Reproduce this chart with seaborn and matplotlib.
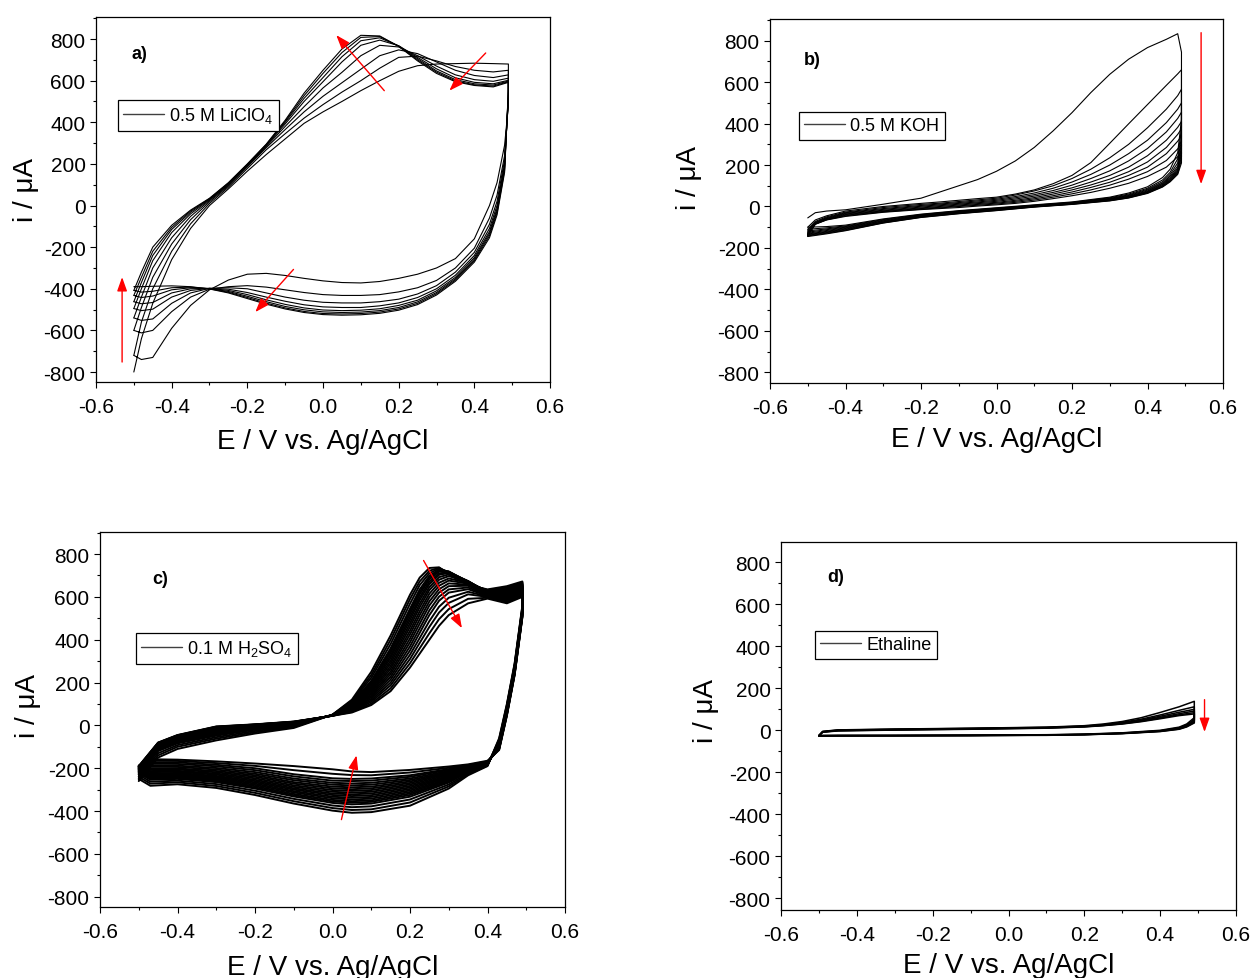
import numpy as np
import pandas as pd
import matplotlib
matplotlib.use("Agg")
import matplotlib.pyplot as plt
import seaborn as sns
from matplotlib.lines import Line2D
from matplotlib.ticker import MultipleLocator, FormatStrFormatter

# ---------------- Panel a: 0.5 M LiClO4 ----------------
E_fwd_a = [-0.50, -0.48, -0.45, -0.40, -0.35, -0.30, -0.25, -0.20, -0.15, -0.10, -0.05,
           0.00, 0.05, 0.10, 0.15, 0.20, 0.25, 0.30, 0.35, 0.40, 0.45, 0.49]
E_rev_a = [0.49, 0.48, 0.46, 0.44, 0.40, 0.35, 0.30, 0.25, 0.20, 0.15, 0.10, 0.05,
           0.00, -0.05, -0.10, -0.15, -0.20, -0.25, -0.30, -0.35, -0.40, -0.45, -0.48, -0.50]
I_fwd_a = [
    [-800, -640, -470, -260, -110, 0, 80, 165, 245, 320, 395, 450, 500, 552, 600, 645, 672, 680, 682, 684, 682, 680],
    [-720, -560, -400, -220, -88, 10, 88, 178, 268, 345, 420, 485, 545, 600, 660, 712, 718, 695, 668, 650, 642, 650],
    [-600, -490, -345, -185, -68, 18, 94, 186, 278, 365, 450, 525, 590, 655, 720, 748, 730, 690, 650, 625, 615, 628],
    [-540, -440, -300, -155, -52, 24, 98, 190, 284, 380, 475, 565, 640, 720, 770, 762, 720, 670, 628, 605, 597, 612],
    [-495, -400, -265, -130, -40, 28, 102, 194, 288, 392, 500, 595, 690, 770, 795, 768, 712, 657, 614, 592, 585, 602],
    [-462, -370, -240, -115, -32, 31, 105, 196, 291, 400, 515, 615, 715, 792, 806, 767, 706, 647, 605, 585, 579, 598],
    [-432, -345, -220, -105, -26, 33, 108, 198, 293, 405, 528, 635, 735, 808, 812, 766, 700, 641, 599, 580, 574, 595],
    [-408, -320, -200, -95, -22, 35, 110, 200, 295, 410, 540, 650, 752, 818, 815, 765, 695, 635, 595, 577, 570, 592],
]
I_rev_a = [
    [480, 290, 110, 0, -160, -255, -300, -330, -350, -365, -372, -370, -362, -350, -336, -326, -330, -358, -405, -480, -590, -730, -740, -720],
    [500, 240, 50, -60, -205, -300, -360, -395, -415, -428, -432, -432, -428, -418, -405, -392, -385, -390, -402, -440, -510, -600, -612, -600],
    [510, 220, 20, -90, -225, -320, -385, -425, -450, -462, -468, -468, -465, -455, -440, -420, -400, -395, -398, -420, -470, -545, -552, -540],
    [520, 200, 0, -110, -240, -335, -400, -442, -468, -482, -490, -490, -487, -477, -460, -440, -418, -402, -398, -408, -440, -498, -505, -495],
    [530, 190, -15, -125, -250, -345, -410, -455, -480, -496, -503, -505, -502, -492, -475, -453, -428, -408, -398, -400, -420, -466, -472, -462],
    [540, 180, -25, -135, -258, -352, -418, -463, -490, -505, -512, -514, -511, -501, -485, -462, -436, -413, -399, -395, -405, -435, -442, -432],
    [550, 170, -35, -145, -265, -358, -424, -470, -497, -512, -519, -521, -519, -509, -492, -469, -442, -417, -400, -392, -395, -412, -416, -408],
    [560, 160, -45, -155, -272, -364, -430, -476, -503, -518, -525, -527, -524, -514, -497, -474, -447, -420, -401, -390, -386, -388, -390, -390],
]

# ---------------- Panel b: 0.5 M KOH ----------------
E_fwd_b = [-0.50, -0.48, -0.45, -0.40, -0.30, -0.20, -0.15, -0.10, -0.05, 0.00, 0.05,
           0.10, 0.15, 0.20, 0.25, 0.30, 0.35, 0.40, 0.45, 0.48, 0.49]
E_rev_b = [0.49, 0.48, 0.46, 0.44, 0.40, 0.35, 0.30, 0.20, 0.10, 0.00, -0.10, -0.20,
           -0.30, -0.40, -0.45, -0.50]
I_fwd_b = [
    [-55, -30, -22, -16, 11, 40, 70, 100, 130, 170, 220, 285, 365, 453, 550, 638, 711, 767, 807, 834, 745],
    [-100, -65, -45, -22, 0, 15, 22, 30, 38, 45, 60, 80, 110, 150, 212, 305, 399, 492, 585, 640, 660],
    [-110, -72, -50, -27, -5, 10, 16, 24, 32, 40, 55, 75, 100, 135, 180, 235, 300, 380, 470, 535, 566],
    [-118, -76, -54, -30, -10, 5, 12, 19, 27, 35, 48, 65, 88, 118, 155, 200, 255, 320, 405, 470, 500],
    [-124, -79, -57, -33, -14, 1, 8, 15, 22, 30, 42, 57, 77, 103, 135, 172, 220, 280, 360, 425, 455],
    [-129, -81, -59, -36, -18, -3, 4, 11, 18, 25, 36, 50, 68, 90, 118, 150, 190, 245, 320, 382, 410],
    [-133, -83, -61, -39, -21, -7, 0, 7, 14, 20, 30, 43, 60, 80, 104, 132, 168, 215, 285, 348, 375],
    [-136, -84, -63, -42, -24, -10, -4, 3, 10, 16, 25, 37, 52, 70, 92, 117, 150, 190, 255, 315, 340],
    [-139, -85, -64, -45, -26, -13, -7, 0, 6, 12, 20, 31, 45, 61, 80, 103, 132, 168, 222, 278, 300],
    [-142, -86, -65, -48, -28, -15, -10, -5, 2, 8, 15, 25, 38, 52, 68, 88, 112, 145, 190, 240, 265],
]
I_rev_b = [
    [420, 260, 180, 140, 95, 65, 45, 22, 8, -6, -20, -37, -60, -90, -97, -100],
    [380, 230, 165, 128, 88, 60, 42, 20, 6, -8, -22, -39, -63, -94, -103, -110],
    [340, 210, 155, 120, 83, 56, 39, 18, 4, -10, -24, -41, -66, -97, -108, -118],
    [310, 195, 147, 114, 79, 53, 37, 16, 3, -12, -26, -43, -69, -100, -112, -124],
    [290, 185, 140, 110, 75, 50, 35, 15, 2, -13, -28, -45, -71, -103, -116, -129],
    [270, 178, 135, 106, 72, 48, 33, 14, 1, -15, -30, -47, -74, -106, -120, -133],
    [255, 172, 130, 102, 69, 46, 31, 13, 0, -16, -31, -49, -76, -109, -123, -136],
    [240, 166, 126, 99, 67, 44, 30, 12, -1, -17, -32, -50, -77, -112, -126, -139],
    [225, 160, 122, 96, 65, 42, 28, 11, -2, -19, -34, -52, -79, -115, -129, -142],
    [210, 155, 119, 94, 63, 41, 27, 10, -3, -20, -35, -53, -80, -117, -132, -145],
]

# ---------------- Panel c: 0.1 M H2SO4 ----------------
E_fwd_c = [-0.50, -0.45, -0.40, -0.30, -0.20, -0.10, 0.00, 0.05, 0.10, 0.15, 0.20,
           0.225, 0.25, 0.275, 0.30, 0.35, 0.40, 0.45, 0.49]
E_rev_c = [0.49, 0.47, 0.45, 0.43, 0.40, 0.35, 0.30, 0.20, 0.10, 0.05, 0.00, -0.10,
           -0.20, -0.30, -0.40, -0.47, -0.50]
I_fwd_c = [
    [-260, -150, -110, -70, -38, -12, 50, 120, 250, 420, 610, 690, 735, 738, 705, 655, 635, 650, 672],
    [-250, -140, -100, -62, -32, -8, 50, 115, 235, 400, 590, 672, 722, 736, 712, 660, 632, 645, 668],
    [-240, -130, -92, -55, -26, -4, 50, 110, 222, 380, 568, 655, 710, 733, 716, 664, 630, 640, 664],
    [-230, -120, -84, -48, -20, 0, 49, 105, 208, 360, 545, 635, 698, 728, 718, 668, 627, 635, 660],
    [-226, -115, -80, -44, -17, 2, 48, 102, 201, 349, 532, 623, 690, 723, 718, 670, 625, 632, 657],
    [-222, -110, -76, -40, -14, 4, 48, 100, 195, 338, 520, 612, 682, 718, 718, 672, 624, 630, 655],
    [-218, -106, -72, -36, -11, 5, 48, 97, 188, 326, 506, 598, 671, 710, 715, 673, 622, 627, 652],
    [-215, -102, -68, -32, -8, 7, 48, 95, 180, 315, 492, 585, 660, 703, 712, 674, 620, 625, 650],
    [-212, -99, -64, -28, -5, 8, 47, 92, 173, 302, 476, 568, 646, 692, 705, 672, 618, 621, 647],
    [-209, -96, -61, -25, -3, 10, 47, 90, 166, 290, 460, 552, 632, 680, 697, 670, 616, 618, 645],
    [-206, -93, -58, -22, -1, 11, 47, 87, 159, 277, 442, 533, 615, 666, 686, 666, 614, 614, 641],
    [-204, -91, -56, -19, 0, 12, 47, 85, 152, 265, 425, 515, 598, 652, 676, 662, 612, 610, 638],
    [-202, -89, -54, -16, 1, 13, 46, 82, 145, 252, 406, 495, 579, 636, 663, 657, 610, 605, 634],
    [-200, -87, -52, -14, 2, 14, 46, 80, 138, 240, 388, 475, 560, 620, 650, 652, 608, 600, 630],
    [-198, -85, -50, -12, 2, 14, 46, 77, 131, 227, 369, 453, 537, 601, 635, 644, 606, 595, 626],
    [-196, -84, -49, -10, 3, 15, 46, 74, 124, 214, 350, 432, 515, 582, 620, 636, 604, 590, 622],
    [-194, -83, -48, -8, 3, 16, 45, 70, 117, 200, 330, 408, 487, 554, 596, 624, 602, 585, 617],
    [-193, -82, -47, -7, 4, 17, 45, 67, 110, 187, 310, 385, 460, 527, 572, 612, 600, 580, 612],
    [-191, -81, -46, -6, 4, 17, 45, 63, 102, 173, 290, 360, 430, 496, 543, 591, 596, 575, 606],
    [-190, -80, -45, -5, 5, 18, 45, 60, 95, 160, 270, 335, 400, 465, 515, 570, 592, 570, 600],
]
I_rev_c = [
    [560, 290, 100, -60, -190, -233, -295, -375, -405, -408, -398, -365, -325, -292, -275, -282, -250],
    [555, 285, 95, -65, -188, -228, -285, -360, -392, -395, -386, -354, -315, -283, -266, -272, -240],
    [550, 280, 90, -70, -186, -223, -276, -346, -378, -382, -374, -343, -305, -274, -258, -263, -230],
    [545, 275, 85, -75, -184, -218, -267, -333, -365, -369, -362, -332, -295, -265, -250, -254, -222],
    [542, 272, 82, -78, -183, -215, -262, -325, -357, -361, -355, -326, -290, -260, -245, -249, -218],
    [540, 270, 80, -80, -182, -213, -258, -318, -350, -354, -348, -320, -284, -256, -241, -244, -215],
    [538, 268, 78, -82, -181, -210, -253, -311, -342, -346, -340, -313, -278, -251, -236, -239, -212],
    [535, 265, 75, -85, -180, -208, -249, -304, -334, -338, -333, -307, -272, -246, -232, -234, -209],
    [532, 262, 72, -88, -179, -206, -244, -297, -326, -330, -325, -300, -266, -241, -227, -229, -206],
    [530, 260, 70, -90, -178, -204, -240, -290, -318, -322, -318, -294, -260, -236, -222, -224, -204],
    [528, 258, 68, -92, -177, -202, -236, -283, -310, -314, -310, -287, -254, -230, -217, -218, -202],
    [525, 255, 65, -95, -176, -200, -231, -276, -302, -306, -302, -280, -247, -225, -212, -213, -200],
    [522, 252, 62, -98, -175, -198, -226, -269, -294, -298, -294, -272, -240, -219, -206, -206, -198],
    [520, 250, 60, -100, -174, -196, -222, -262, -286, -289, -286, -265, -233, -213, -201, -200, -196],
    [518, 248, 58, -102, -173, -194, -218, -255, -277, -280, -277, -256, -226, -206, -194, -193, -194],
    [515, 245, 55, -105, -172, -192, -213, -248, -268, -271, -268, -248, -218, -199, -188, -186, -193],
    [512, 242, 52, -108, -171, -190, -208, -240, -258, -260, -258, -238, -209, -191, -180, -179, -192],
    [510, 240, 50, -110, -170, -188, -204, -233, -248, -250, -247, -228, -200, -184, -173, -172, -190],
    [508, 238, 48, -112, -168, -185, -198, -220, -233, -232, -226, -209, -189, -176, -166, -165, -189],
    [505, 235, 45, -115, -165, -182, -192, -208, -218, -215, -205, -190, -178, -168, -160, -158, -188],
]

# ---------------- Panel d: Ethaline ----------------
E_fwd_d = [-0.50, -0.49, -0.45, -0.30, -0.10, 0.10, 0.20, 0.25, 0.30, 0.35, 0.40, 0.45, 0.49]
E_rev_d = [0.49, 0.47, 0.45, 0.40, 0.30, 0.20, 0.10, -0.10, -0.30, -0.45, -0.50]
I_fwd_d = [
    [-25, -5, 2, 6, 10, 15, 22, 30, 42, 60, 85, 112, 138],
    [-25, -6, 1, 5, 9, 14, 20, 27, 38, 53, 73, 95, 112],
    [-25, -7, 0, 4, 8, 13, 19, 25, 35, 49, 67, 86, 100],
    [-26, -8, -1, 3, 7, 12, 18, 24, 33, 46, 62, 79, 92],
    [-26, -8, -2, 2, 6, 11, 17, 23, 31, 43, 58, 74, 84],
    [-27, -9, -3, 1, 5, 10, 16, 22, 30, 41, 55, 70, 78],
]
I_rev_d = [
    [60, 30, 15, 0, -12, -18, -21, -23, -24, -24, -25],
    [52, 26, 12, -2, -13, -19, -22, -24, -25, -25, -25],
    [46, 22, 10, -3, -14, -20, -22, -24, -25, -25, -26],
    [42, 20, 8, -4, -15, -20, -23, -25, -25, -26, -26],
    [38, 18, 6, -5, -15, -21, -23, -25, -26, -26, -27],
    [35, 16, 5, -6, -16, -21, -24, -25, -26, -27, -27],
]

panel_tags = ["a)", "b)", "c)", "d)"]
legend_labels = ["0.5 M LiClO$_4$", "0.5 M KOH", "0.1 M H$_2$SO$_4$", "Ethaline"]
x_ticks = [-0.6, -0.4, -0.2, 0.0, 0.2, 0.4, 0.6]
y_ticks = [-800, -600, -400, -200, 0, 200, 400, 600, 800]

# red trend arrows (tail, head) in data coordinates
arrows = {
    0: [((0.162, 552), (0.035, 819)), ((0.430, 733), (0.334, 552)),
        ((-0.078, -307), (-0.179, -512)), ((-0.531, -752), (-0.531, -344))],
    1: [((0.542, 839), (0.542, 108))],
    2: [((0.235, 770), (0.334, 454)), ((0.023, -440), (0.062, -140))],
    3: [((0.517, 146), (0.517, -8))],
}


def cycles_frame(E_f, E_r, I_f, I_r):
    rows = []
    for k, (f, r) in enumerate(zip(I_f, I_r)):
        E = list(E_f) + list(E_r)
        I = list(f) + list(r)
        for j, (e, i) in enumerate(zip(E, I)):
            rows.append((k, j, e, i))
    return pd.DataFrame(rows, columns=["cycle", "step", "E", "I"])


frames = [
    cycles_frame(E_fwd_a, E_rev_a, I_fwd_a, I_rev_a),
    cycles_frame(E_fwd_b, E_rev_b, I_fwd_b, I_rev_b),
    cycles_frame(E_fwd_c, E_rev_c, I_fwd_c, I_rev_c),
    cycles_frame(E_fwd_d, E_rev_d, I_fwd_d, I_rev_d),
]

sns.set_theme(style="ticks")
plt.rcParams["font.family"] = ["Liberation Sans", "DejaVu Sans"]
plt.rcParams["mathtext.fontset"] = "custom"
plt.rcParams["mathtext.rm"] = "Liberation Sans"
plt.rcParams["mathtext.it"] = "Liberation Sans:italic"
plt.rcParams["mathtext.bf"] = "Liberation Sans:bold"
plt.rcParams["axes.unicode_minus"] = False
plt.rcParams["text.color"] = "black"
plt.rcParams["axes.labelcolor"] = "black"
plt.rcParams["xtick.color"] = "black"
plt.rcParams["ytick.color"] = "black"

fig = plt.figure(figsize=(12.52, 9.79), dpi=100)

W, H = 1252.0, 979.0
# pixel boxes: left, top, right, bottom
boxes = [(96, 18, 550, 383), (770, 20, 1223, 384), (100, 533, 565, 908), (781, 543, 1236, 911)]
ylims = [(-848, 906), (-852, 905), (-848, 903), (-856, 897)]
legend_anchor = [(0.0485, 0.773), (0.064, 0.745), (0.0774, 0.731), (0.0747, 0.758)]
tag_pos = [(0.095, 0.899), (0.093, 0.890), (0.129, 0.875), (0.121, 0.905)]
ylabel_xy = [(-0.126, 0.529), (-0.150, 0.566), (-0.126, 0.539), (-0.136, 0.543)]
xlabel_y = [-0.125, -0.119, -0.125, -0.113]
line_w = [0.8, 0.8, 1.4, 1.1]

for p in range(4):
    l, t, r, b = boxes[p]
    ax = fig.add_axes([l / W, 1 - b / H, (r - l) / W, (b - t) / H])
    sns.lineplot(data=frames[p], x="E", y="I", units="cycle", estimator=None,
                 sort=False, color="black", lw=line_w[p], ax=ax, legend=False)
    ax.set_xlim(-0.6, 0.6)
    ax.set_ylim(*ylims[p])
    ax.set_xticks(x_ticks)
    ax.set_yticks(y_ticks)
    ax.xaxis.set_minor_locator(MultipleLocator(0.1))
    ax.yaxis.set_minor_locator(MultipleLocator(100))
    ax.xaxis.set_major_formatter(FormatStrFormatter("%.1f"))
    ax.yaxis.set_major_formatter(FormatStrFormatter("%d"))
    ax.tick_params(which="major", direction="out", length=4.5, width=0.8,
                   labelsize=15, colors="black", top=False, right=False)
    ax.tick_params(axis="x", which="major", pad=6.5)
    ax.tick_params(axis="y", which="major", pad=3)
    ax.tick_params(which="minor", direction="out", length=2.5, width=0.8,
                   top=False, right=False)
    for s in ax.spines.values():
        s.set_visible(True)
        s.set_linewidth(0.9)
        s.set_color("black")
    ax.set_xlabel("E / V vs. Ag/AgCl", fontsize=20)
    ax.set_ylabel("i / \u03bcA", fontsize=20)
    ax.xaxis.set_label_coords(0.5, xlabel_y[p])
    ax.yaxis.set_label_coords(*ylabel_xy[p])

    handle = Line2D([], [], color="#404040", lw=1.0)
    leg = ax.legend([handle], [legend_labels[p]], loc="upper left",
                    bbox_to_anchor=legend_anchor[p], borderaxespad=0,
                    frameon=True, fancybox=False, edgecolor="black",
                    fontsize=13, handlelength=2.25, handletextpad=0.3,
                    borderpad=0.3, framealpha=1)
    leg.get_frame().set_linewidth(0.9)

    ax.text(tag_pos[p][0], tag_pos[p][1], panel_tags[p], transform=ax.transAxes,
            fontsize=13, fontweight="bold", ha="center", va="center")

    for tail, head in arrows[p]:
        ax.annotate("", xy=head, xytext=tail,
                    arrowprops=dict(arrowstyle="-|>,head_length=0.7,head_width=0.25",
                                    color="red", lw=1.0, shrinkA=0, shrinkB=0))

fig.savefig("out.png", dpi=100)
